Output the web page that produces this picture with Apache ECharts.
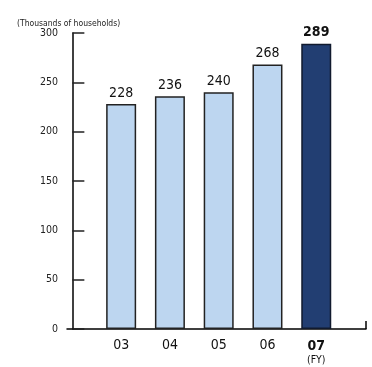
<!DOCTYPE html>
<html>
<head>
<meta charset="utf-8">
<script src="https://cdn.jsdelivr.net/npm/echarts@6/dist/echarts.min.js"></script>
<style>
html,body{margin:0;padding:0;background:#fff;}
#c{width:372px;height:367px;}
</style>
</head>
<body>
<div id="c"></div>
<script>
var categories = ['03', '04', '05', '06', '07'];
var values = [228, 236, 240, 268, 289];
var yTicks = [0, 50, 100, 150, 200, 250, 300];
var unitLabel = '(Thousands of households)';
var fyLabel = '(FY)';

var FONT = '"Liberation Sans Narrow", "DejaVu Sans Condensed", sans-serif';
var lastIdx = categories.length - 1;
var X_MIN = -0.11, X_MAX = 6.02;

var barData = values.map(function (v, i) {
  var item = {
    value: [i + 1, v],
    itemStyle: i === lastIdx ? { color: '#223E72', borderColor: '#111a2e' } : undefined,
    label: i === lastIdx ? { fontWeight: 'bold' } : undefined
  };
  return item;
});

var chart = echarts.init(document.getElementById('c'), null, { renderer: 'canvas' });
chart.setOption({
  animation: false,
  backgroundColor: '#fff',
  title: {
    text: unitLabel,
    left: 12, top: 14,
    textStyle: { fontFamily: FONT, fontSize: 8.5, fontWeight: 'normal', color: '#222' }
  },
  grid: { left: 67, right: 6, top: 33, bottom: 38, outerBoundsMode: 'none', containLabel: false },
  xAxis: {
    type: 'value',
    min: X_MIN, max: X_MAX,
    splitLine: { show: false },
    axisLine: { show: true, onZero: false, lineStyle: { color: '#000', width: 1.5 } },
    axisTick: { show: true, inside: true, length: 8, customValues: [X_MAX], lineStyle: { color: '#000', width: 1.5 } },
    axisLabel: {
      customValues: categories.map(function (c, i) { return i + 1; }),
      margin: 9,
      fontFamily: FONT, fontSize: 14, color: '#111',
      formatter: function (v) {
        var i = Math.round(v) - 1;
        if (i === lastIdx) return '{b|' + categories[i] + '}\n{fy|' + fyLabel + '}';
        return categories[i];
      },
      rich: {
        b: { fontFamily: FONT, fontSize: 14, fontWeight: 'bold', color: '#111', lineHeight: 17 },
        fy: { fontFamily: FONT, fontSize: 10.5, color: '#111', lineHeight: 11 }
      }
    }
  },
  yAxis: {
    type: 'value',
    min: 0, max: 300, interval: 50,
    splitLine: { show: false },
    axisLine: { show: true, lineStyle: { color: '#000', width: 1.5 } },
    axisTick: { show: true, inside: true, length: 12, lineStyle: { color: '#222', width: 1.5 } },
    axisLabel: {
      margin: 9, fontFamily: FONT, fontSize: 10.5, color: '#222',
      formatter: function (v) { return yTicks.indexOf(v) >= 0 ? String(v) : ''; }
    }
  },
  series: [{
    type: 'bar',
    barWidth: 30,
    data: barData,
    itemStyle: { color: '#BDD6F0', borderColor: '#222', borderWidth: 1.5 },
    label: {
      show: true, position: 'top', distance: 4,
      fontFamily: FONT, fontSize: 14, color: '#111',
      formatter: function (p) { return p.value[1]; }
    }
  }]
});
</script>
</body>
</html>
